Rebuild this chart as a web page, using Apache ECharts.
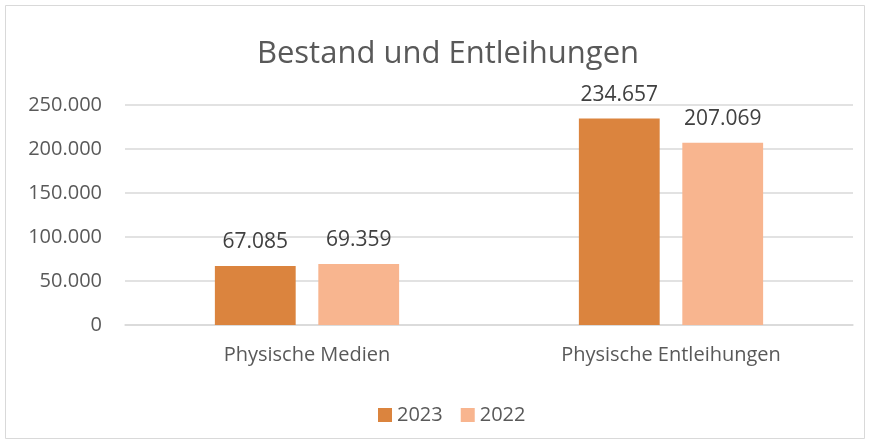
<!DOCTYPE html>
<html><head><meta charset="utf-8">
<script src="https://cdn.jsdelivr.net/npm/echarts@6/dist/echarts.min.js"></script>
<style>html,body{margin:0;padding:0;background:#fff}#c{width:870px;height:443px}</style>
</head><body><div id="c"></div>
<script>
const categories = ['Physische Medien', 'Physische Entleihungen'];
const seriesNames = ['2023', '2022'];
const values2023 = [67085, 234657];
const values2022 = [69359, 207069];
const yTicks = [0, 50000, 100000, 150000, 200000, 250000];

const fmt = v => String(v).replace(/\B(?=(\d{3})+(?!\d))/g, '.');
const FONT = 'Open Sans';
const chart = echarts.init(document.getElementById('c'));
chart.setOption({
  animation: false,
  backgroundColor: '#fff',
  textStyle: { fontFamily: FONT },
  graphic: [{ type: 'rect', shape: { x: 5.5, y: 5.5, width: 859, height: 433 }, style: { fill: 'none', stroke: '#d9d9d9', lineWidth: 1 } }],
  title: { text: 'Bestand und Entleihungen', left: 443, textAlign: 'center', top: 34, textStyle: { fontFamily: FONT, fontSize: 31, fontWeight: 'normal', color: '#595959' } },
  legend: { top: 400, left: 373, itemWidth: 14, itemHeight: 14, itemGap: 18, icon: 'rect', textStyle: { fontFamily: FONT, fontSize: 20, color: '#595959', padding: [0, 0, 0, 0] }, data: seriesNames },
  grid: { left: 125, right: 17, top: 105, bottom: 118 },
  xAxis: { type: 'category', data: categories, axisTick: { show: false }, axisLine: { lineStyle: { color: '#d9d9d9', width: 1.5 } }, axisLabel: { fontFamily: FONT, fontSize: 20, color: '#595959', margin: 20 } },
  yAxis: { type: 'value', min: yTicks[0], max: yTicks[yTicks.length - 1], interval: 50000, axisLine: { show: false }, axisTick: { show: false }, splitLine: { lineStyle: { color: '#d9d9d9', width: 1.5 } }, axisLabel: { fontFamily: FONT, fontSize: 20, color: '#595959', margin: 23, formatter: fmt } },
  series: [
    { name: seriesNames[0], type: 'bar', data: values2023, barWidth: '22.2%', barGap: '28%', itemStyle: { color: '#DB843E' }, label: { show: true, position: 'top', distance: 13, fontFamily: FONT, fontSize: 21, color: '#404040', formatter: p => fmt(p.value) } },
    { name: seriesNames[1], type: 'bar', data: values2022, barWidth: '22.2%', barGap: '28%', itemStyle: { color: '#F8B58F' }, label: { show: true, position: 'top', distance: 13, fontFamily: FONT, fontSize: 21, color: '#404040', formatter: p => fmt(p.value) } }
  ]
});
</script></body></html>
